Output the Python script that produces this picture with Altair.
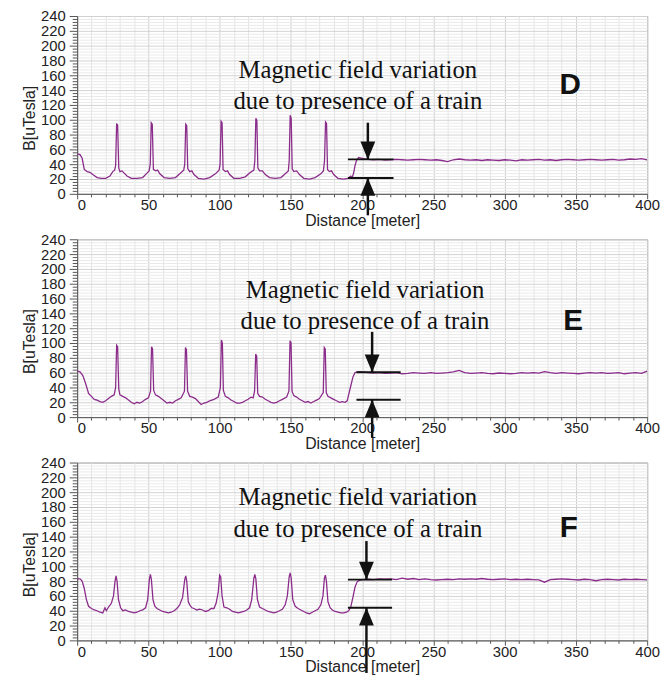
import altair as alt
import pandas as pd

# ---------------- data ----------------
D_x = [0, 2, 3.5, 5, 7, 9, 11, 14, 17, 20, 23, 25, 26.3, 27, 27.7, 28.4, 29.2, 30, 31.5, 33, 35, 38, 42, 46,
       49, 50.5, 51.3, 52, 52.7, 53.5, 55, 56.5, 58, 61, 65, 69, 72, 74.8, 75.5, 76.2, 76.9, 77.6, 79, 80.5,
       82, 85, 89, 93, 97, 99.6, 100.3, 101, 101.7, 102.4, 104, 105.5, 107, 110, 114, 118, 121, 124, 124.7,
       125.4, 126.1, 126.8, 128, 130, 132, 135, 139, 143, 146, 148.2, 148.8, 149.5, 150.2, 150.9, 152, 154,
       156, 159, 163, 167, 171, 172.8, 173.6, 174.3, 175, 175.7, 177, 178.5, 180, 183, 187, 190, 192, 193,
       194, 195, 196, 197.5]
D_y = [54, 53, 48, 33, 30, 29, 26, 22, 21, 21, 24, 30, 32, 38, 94, 93, 35, 30, 31, 28, 24, 21, 21, 22,
       28, 31, 40, 96, 94, 33, 31, 32, 27, 22, 21, 22, 27, 32, 40, 94, 92, 34, 30, 31,
       26, 21, 20, 22, 27, 32, 40, 98, 96, 33, 30, 31, 26, 21, 21, 23, 28, 32, 45,
       102, 99, 35, 31, 31, 26, 22, 21, 22, 27, 31, 45, 106, 102, 34, 30, 31,
       26, 21, 20, 22, 27, 31, 45, 97, 95, 33, 30, 31, 26, 21, 20, 21, 24, 22,
       28, 38, 45, 49]
D_plateau = [48, 46.5, 46, 46.5, 45.5, 46, 46.5, 46, 45.5, 46, 46.5, 46, 45.5, 46, 45, 43.5, 46, 47, 46,
             45.5, 46, 45, 46, 45.5, 45, 46, 45.5, 44.5, 46, 45.5, 46, 46.5, 45.5, 46, 45, 46, 46.5, 46,
             45.5, 46, 46.5, 46, 45.5, 46, 46.5, 45.5, 46, 47, 46.5, 47.5, 46]

E_x = [0, 2, 4, 6, 8, 10, 12, 14, 16, 18, 20, 22, 24, 26, 27, 27.7, 28.4, 29.2, 30, 32, 34, 36, 38, 40,
       42, 44, 46, 48, 50, 51.5, 52.2, 52.9, 53.7, 55, 57, 59, 61, 63, 65, 67, 69, 71, 73, 75.3, 76, 76.7,
       77.5, 79, 81, 83, 85, 87, 89, 91, 93, 96, 99, 100.5, 101.2, 101.9, 102.6, 104, 106, 108, 110, 112,
       114, 116, 118, 120, 122, 123.5, 124.5, 125.3, 126, 126.7, 128, 130, 132, 134, 136, 138, 140, 142,
       144, 147, 148.6, 149.4, 150.1, 150.8, 152, 154, 156, 158, 160, 162, 164, 166, 168, 170, 172.7,
       173.4, 174.1, 174.8, 176, 178, 180, 182, 184, 186, 188, 189.5, 190.5, 192, 193.5, 195, 197]
E_y = [62, 61, 56, 45, 32, 28, 24, 23, 21, 20, 22, 25, 28, 30, 40, 97, 95, 38, 30, 28, 26, 23, 20, 18,
       20, 19, 21, 24, 26, 35, 95, 92, 36, 30, 28, 25, 22, 19, 20, 19, 22, 24, 26, 35, 94, 91,
       35, 28, 27, 25, 21, 17, 19, 20, 22, 24, 27, 40, 104, 100, 36, 28, 26, 23, 21, 19,
       19, 20, 22, 24, 27, 26, 35, 85, 82, 32, 28, 27, 24, 22, 20, 19, 20, 22,
       24, 27, 35, 103, 100, 35, 29, 27, 24, 22, 20, 21, 19, 21, 23, 25, 33,
       94, 92, 33, 28, 26, 24, 22, 20, 21, 20, 22, 30, 42, 54, 60, 61]
E_plateau = [61, 60, 59.5, 60, 59, 59.5, 60, 58.5, 59, 60, 59.5, 59, 60, 59, 59.5, 60, 61, 63, 60, 59,
             59.5, 60, 59, 58.5, 59.5, 59, 58.5, 59, 60, 59.5, 60, 59.5, 61.5, 60, 59, 60, 59.5, 59,
             58.5, 59.5, 60, 59.5, 60, 59, 59.5, 60, 58.5, 59.5, 60, 59, 62]

F_x = [0, 2, 3.5, 5, 6.5, 8, 10, 12, 14, 16, 18, 19.5, 20.5, 22, 24, 25.5, 26.6, 27.3, 28, 29, 30.5, 32,
       34, 36, 38, 40, 42, 44, 46, 48, 49.5, 50.7, 51.4, 52.1, 53.2, 54.5, 56, 58, 60, 62, 64, 66, 68,
       70, 72, 74, 75.5, 76.2, 76.9, 78, 79, 80.5, 82, 84, 86, 88, 90, 92, 94, 96, 97.5, 99, 100, 100.7,
       101.7, 103, 105, 107, 109, 111, 113, 115, 117, 119, 121, 122.5, 124, 124.7, 125.4, 126.5, 128,
       130, 132, 134, 136, 138, 140, 142, 144, 146, 147.5, 148.8, 149.5, 150.2, 151.3, 153, 155, 157,
       159, 161, 163, 165, 167, 169, 171, 172.5, 173.5, 174.2, 174.9, 176, 177.5, 179, 181, 183, 185,
       187, 189, 190.5, 192, 193.5, 195, 196.5, 198]
F_y = [83, 83, 80, 70, 55, 46, 43, 41, 40, 38, 37, 44, 40, 45, 50, 60, 80, 87, 80, 55, 44, 40,
       41, 39, 38, 37, 38, 40, 41, 44, 55, 83, 89, 82, 55, 46, 43, 41, 39, 38, 37, 38, 40,
       43, 48, 58, 82, 87, 80, 52, 48, 44, 43, 41, 42, 41, 39, 40, 43, 43, 50, 65, 88, 86,
       60, 45, 44, 42, 39, 38, 37, 38, 39, 41, 44, 55, 84, 89, 83, 55, 45,
       43, 41, 39, 38, 37, 38, 40, 42, 48, 60, 86, 91, 84, 55, 46, 43, 41,
       39, 37, 36, 38, 40, 42, 48, 60, 84, 88, 80, 52, 44, 41, 39, 38, 37,
       37, 38, 40, 45, 58, 72, 79, 81]
F_plateau = [82, 82.5, 82, 83, 82.5, 83, 82, 84, 82.5, 83.5, 82, 83, 82, 81.5, 82, 82.5, 82, 83, 82.5,
             83, 82.5, 83.5, 82.5, 82, 82.5, 83, 82, 82.5, 82, 82.5, 82, 81.5, 78.5, 82, 82.5, 83,
             82.5, 82, 81.5, 82.5, 82, 80.5, 82, 82.5, 82, 81.5, 82.5, 82, 82.5, 82, 81.5]
plateau_x = list(range(200, 401, 4))

panel_names = ["D", "E", "F"]
text_lines = ["Magnetic field variation", "due to presence of a train"]
text_x = [197, 202, 197]
text_y1 = [156, 161, 183]
text_y2 = [115, 119, 139]
letter_x = [346, 348, 345]
letter_y = [135, 118, 140]
arrow_x = [204, 207, 203]
bar_x1 = [190, 196, 190]
bar_x2 = [222, 227, 221]
upper_level = [46.5, 60.5, 82]
lower_level = [21.5, 23.5, 44]
arrow_top = [96, 115, 134]
arrow_bottom = [-29, -28, -44]

x_ticks = list(range(0, 401, 10))
y_ticks = list(range(0, 241, 4))

# ---------------- chart ----------------
W, H = 577, 180
PURPLE = "#8b2c8b"
DOWN_HEAD = "M -1 -2.4 L 1 -2.4 L 0 0 Z"
UP_HEAD = "M -1 2.4 L 1 2.4 L 0 0 Z"

XSCALE = alt.Scale(domain=[0, 400], nice=False, zero=False)
YSCALE = alt.Scale(domain=[0, 240], nice=False, zero=False)

XAXIS = alt.Axis(
    values=x_ticks,
    title="Distance [meter]",
    labelExpr="datum.value % 50 === 0 ? datum.label : ''",
    labelOverlap=False,
    labelAlign={"condition": {"test": "datum.value === 0", "value": "left"}, "value": "center"},
    tickSize={"condition": {"test": "datum.value % 50 === 0", "value": 5}, "value": 3},
    gridColor={"condition": {"test": "datum.value % 50 === 0", "value": "#cdcdcd"}, "value": "#e4e4e4"},
    labelPadding=-1,
    titlePadding=0,
)
YAXIS = alt.Axis(
    values=y_ticks,
    title="B[uTesla]",
    labelExpr="datum.value % 20 === 0 ? datum.label : ''",
    labelOverlap=False,
    tickSize={"condition": {"test": "datum.value % 20 === 0", "value": 8}, "value": 5},
    gridColor={"condition": {"test": "datum.value % 20 === 0", "value": "#d2d2d2"}, "value": "#eaeaea"},
    labelPadding=4,
    titlePadding=3,
    titleY=H / 2 + 13,
)


def X(f):
    return alt.X(f, scale=XSCALE, axis=XAXIS)


def Y(f):
    return alt.Y(f, scale=YSCALE, axis=YAXIS)


def make_panel(i, xs, ys, plateau):
    df = pd.DataFrame({"x": list(xs) + plateau_x, "y": list(ys) + plateau})

    line = alt.Chart(df).mark_line(color=PURPLE, strokeWidth=1.3, clip=True).encode(
        x=X("x:Q"), y=Y("y:Q"), order="x:Q",
    )

    tdf = pd.DataFrame({"x": [text_x[i], text_x[i]], "y": [text_y1[i], text_y2[i]], "t": text_lines})
    txt = alt.Chart(tdf).mark_text(font="Liberation Serif", fontSize=25, align="center",
                                   baseline="alphabetic", color="#111111").encode(
        x=X("x:Q"), y=Y("y:Q"), text="t:N",
    )

    ldf = pd.DataFrame({"x": [letter_x[i]], "y": [letter_y[i]], "t": [panel_names[i]]})
    letter = alt.Chart(ldf).mark_text(font="Liberation Sans", fontSize=30, fontWeight="bold",
                                      align="center", baseline="alphabetic", color="#111111").encode(
        x=X("x:Q"), y=Y("y:Q"), text="t:N",
    )

    bdf = pd.DataFrame({"x": [bar_x1[i], bar_x1[i]], "x2": [bar_x2[i], bar_x2[i]],
                        "y": [upper_level[i], lower_level[i]]})
    bars = alt.Chart(bdf).mark_rule(color="#111111", strokeWidth=2).encode(
        x=X("x:Q"), x2="x2:Q", y=Y("y:Q"),
    )

    sdf = pd.DataFrame({"x": [arrow_x[i], arrow_x[i]], "y": [arrow_top[i], arrow_bottom[i]],
                        "y2": [upper_level[i], lower_level[i]]})
    shafts = alt.Chart(sdf).mark_rule(color="#111111", strokeWidth=2.5, clip=False).encode(
        x=X("x:Q"), y=Y("y:Q"), y2="y2:Q",
    )

    ddf = pd.DataFrame({"x": [arrow_x[i]], "y": [upper_level[i]]})
    down = alt.Chart(ddf).mark_point(shape=DOWN_HEAD, size=225, filled=True, opacity=1,
                                     color="#111111", strokeWidth=0).encode(
        x=X("x:Q"), y=Y("y:Q"),
    )
    udf = pd.DataFrame({"x": [arrow_x[i]], "y": [lower_level[i]]})
    up = alt.Chart(udf).mark_point(shape=UP_HEAD, size=225, filled=True, opacity=1,
                                   color="#111111", strokeWidth=0).encode(
        x=X("x:Q"), y=Y("y:Q"),
    )

    return alt.layer(line, txt, letter, bars, shafts, down, up).properties(width=W, height=H)


chart = alt.vconcat(
    make_panel(0, D_x, D_y, D_plateau),
    make_panel(1, E_x, E_y, E_plateau),
    make_panel(2, F_x, F_y, F_plateau),
    spacing=2,
).properties(
    padding={"left": 13, "top": -4, "right": 0, "bottom": 0},
    background="white",
).configure_view(
    stroke="#8a8a8a", strokeWidth=1,
).configure_axis(
    labelFont="Liberation Sans", labelFontSize=15, labelColor="#222222",
    titleFont="Liberation Sans", titleFontSize=16, titleFontWeight="normal", titleColor="#222222",
    domainColor="#555555", tickColor="#555555", gridWidth=1, labelOverlap=False,
)

chart.save("out.html", embed_options={"renderer": "svg", "actions": False})
